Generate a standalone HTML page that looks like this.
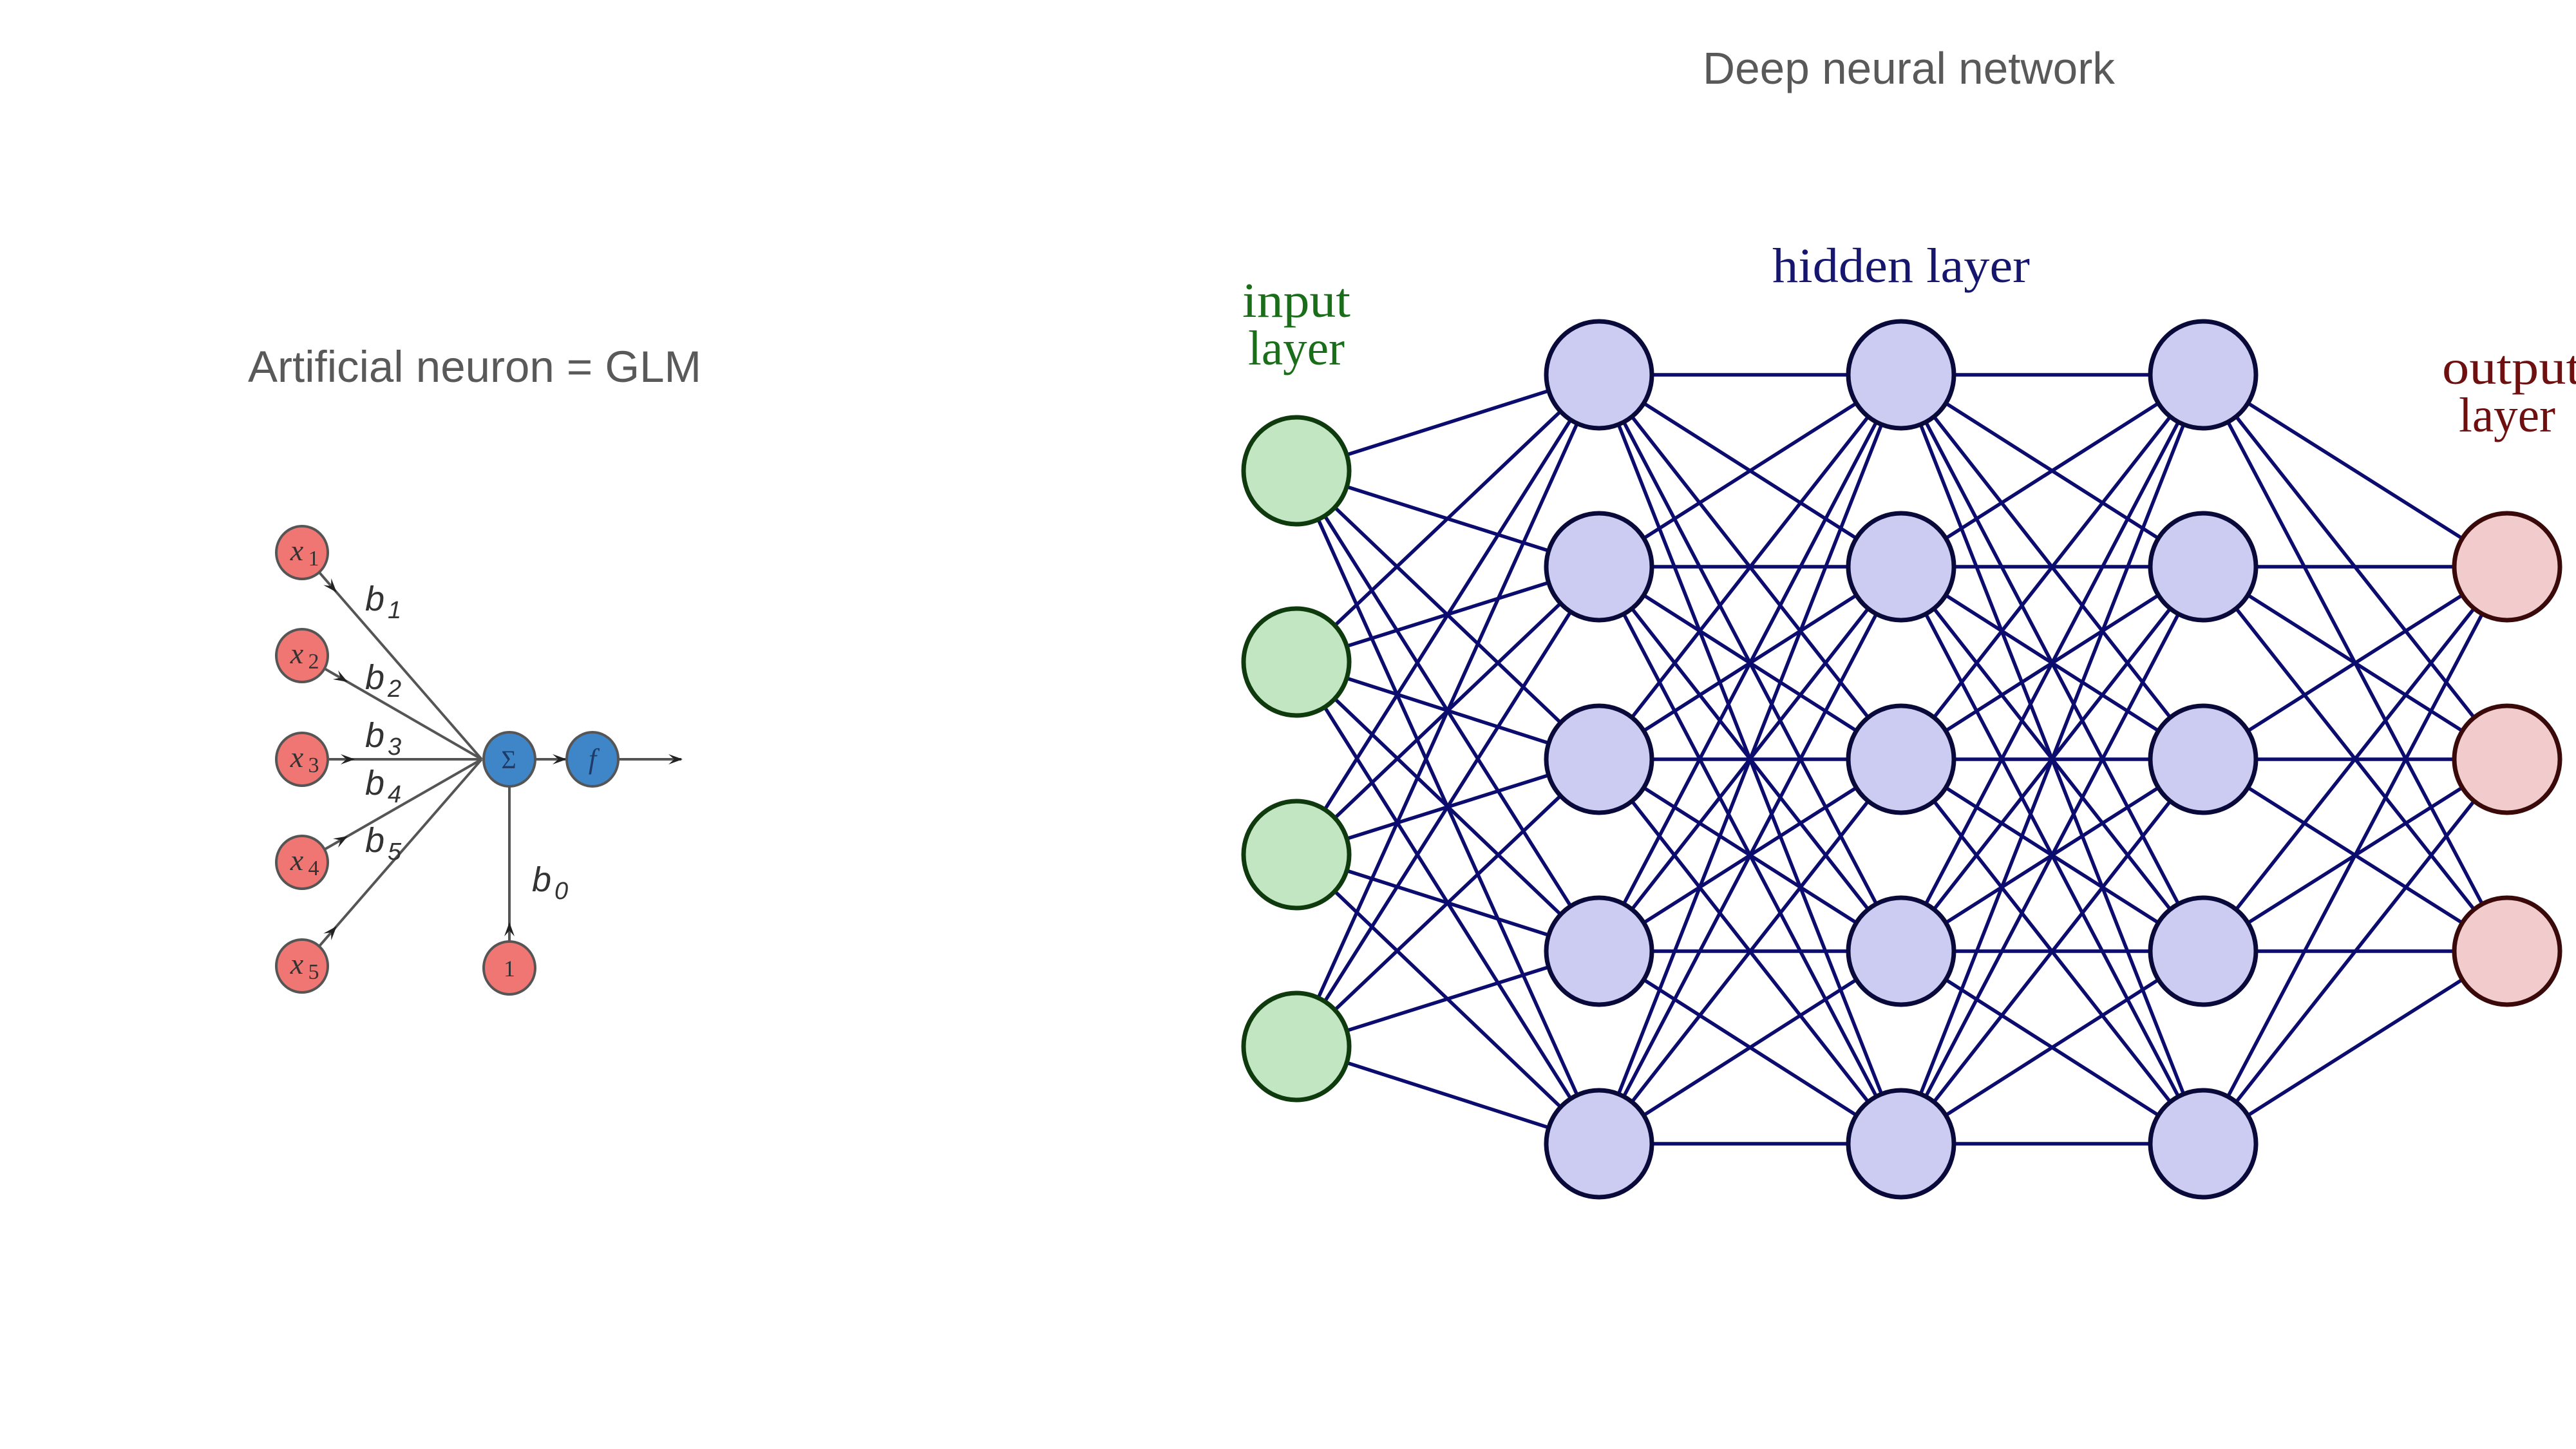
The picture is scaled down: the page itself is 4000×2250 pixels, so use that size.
<!DOCTYPE html>
<html><head><meta charset="utf-8"><style>
html,body{margin:0;padding:0;background:#fff;}
svg{display:block;}
</style></head><body>
<svg id="s" width="4000" height="2250" viewBox="0 0 4000 2250" xmlns="http://www.w3.org/2000/svg">
<rect width="4000" height="2250" fill="#fff"/>
<text x="2964" y="130" font-family="Liberation Sans, sans-serif" font-size="70" fill="#595959" text-anchor="middle" textLength="640" lengthAdjust="spacingAndGlyphs">Deep neural network</text>
<text x="737" y="593" font-family="Liberation Sans, sans-serif" font-size="69" fill="#595959" text-anchor="middle" textLength="704" lengthAdjust="spacingAndGlyphs">Artificial neuron = GLM</text>

<g id="left" stroke="#555" stroke-width="4" fill="none"></g>
<g id="net"></g>

<g font-family="Liberation Serif, serif" font-size="76" text-anchor="middle">
<text x="2013" y="492" fill="#1a6e1a" textLength="168" lengthAdjust="spacingAndGlyphs">input</text>
<text x="2013" y="566" fill="#1a6e1a" textLength="150" lengthAdjust="spacingAndGlyphs">layer</text>
<text x="2952" y="438" fill="#16166e" textLength="400" lengthAdjust="spacingAndGlyphs">hidden layer</text>
<text x="3900" y="596" fill="#6e1010" textLength="216" lengthAdjust="spacingAndGlyphs">output</text>
<text x="3893" y="670" fill="#6e1010" textLength="150" lengthAdjust="spacingAndGlyphs">layer</text>
</g>
</svg>
<script>
const NS="http://www.w3.org/2000/svg";
function el(t,a,p){const e=document.createElementNS(NS,t);for(const k in a)e.setAttribute(k,a[k]);(p||document.getElementById('s')).appendChild(e);return e;}
const net=document.getElementById('net');
const IX=2013, IY=[731,1028,1327,1625];
const HX=[2483,2952,3421], HY=[582,880,1179,1477,1776];
const OX=3893, OY=[880,1179,1477];
const lg=el('g',{stroke:'#0c0c6e','stroke-width':5.5},net);
function L(x1,y1,x2,y2){el('line',{x1,y1,x2,y2},lg);}
IY.forEach(a=>HY.forEach(b=>L(IX,a,HX[0],b)));
for(let k=0;k<2;k++)HY.forEach(a=>HY.forEach(b=>L(HX[k],a,HX[k+1],b)));
HY.forEach(a=>OY.forEach(b=>L(HX[2],a,OX,b)));
const ng=el('g',{'stroke-width':7},net);
IY.forEach(y=>el('ellipse',{cx:IX,cy:y,rx:82,ry:83,fill:'#c2e6c2',stroke:'#0e3a0e'},ng));
HX.forEach(x=>HY.forEach(y=>el('ellipse',{cx:x,cy:y,rx:82,ry:83,fill:'#ccccf2',stroke:'#0a0a3a'},ng)));
OY.forEach(y=>el('ellipse',{cx:OX,cy:y,rx:82,ry:83,fill:'#f2cccc',stroke:'#3a0a0a'},ng));
const left=document.getElementById('left');
const XS=[858,1018,1179,1339,1500], x0=469, cx=748, cy=1179;
function arrowHead(x,y,ang,g){const s=22,w=8;const c=Math.cos(ang),sn=Math.sin(ang);
 el('polygon',{points:`${x},${y} ${x-s*c+w*sn},${y-s*sn-w*c} ${x-s*c*0.6},${y-s*sn*0.6} ${x-s*c-w*sn},${y-s*sn+w*c}`,fill:'#222',stroke:'none'},g);}
XS.forEach(y=>{const ang=Math.atan2(cy-y,cx-x0);const sx=x0+42*Math.cos(ang),sy=y+42*Math.sin(ang);
 el('line',{x1:sx,y1:sy,x2:cx,y2:cy},left);
 arrowHead(sx+40*Math.cos(ang),sy+40*Math.sin(ang),ang,left);});
el('line',{x1:831,y1:1179,x2:880,y2:1179},left);arrowHead(880,1179,0,left);
el('line',{x1:961,y1:1179,x2:1058,y2:1179},left);arrowHead(1060,1179,0,left);
el('line',{x1:791,y1:1221,x2:791,y2:1461},left);arrowHead(791,1432,-Math.PI/2,left);
const ng2=el('g',{'stroke-width':4,stroke:'#555'});
XS.forEach(y=>el('ellipse',{cx:x0,cy:y,rx:40,ry:41,fill:'#ef7672'},ng2));
el('ellipse',{cx:791,cy:1503,rx:40,ry:41,fill:'#ef7672'},ng2);
el('ellipse',{cx:791,cy:1179,rx:40,ry:42,fill:'#3f86c8'},ng2);
el('ellipse',{cx:920,cy:1179,rx:40,ry:42,fill:'#3f86c8'},ng2);
const tg=el('g',{'font-family':'Liberation Serif, serif',fill:'#333'});
XS.forEach((y,i)=>{const t=el('text',{x:x0-8,y:y+12,'font-size':46,'font-style':'italic','text-anchor':'middle'},tg);t.textContent='x';
 const s=el('text',{x:x0+18,y:y+20,'font-size':34,'text-anchor':'middle'},tg);s.textContent=String(i+1);});
let t=el('text',{x:791,y:1516,'font-size':36,'text-anchor':'middle'},tg);t.textContent='1';
t=el('text',{x:790,y:1193,'font-size':40,'text-anchor':'middle',fill:'#1e3a66'},tg);t.textContent='Σ';
t=el('text',{x:920,y:1193,'font-size':44,'font-style':'italic','text-anchor':'middle',fill:'#1e3a66'},tg);t.textContent='f';
const bg=el('g',{'font-family':'Liberation Sans, sans-serif',fill:'#333','font-style':'italic'});
[[567,948,'1'],[567,1070,'2'],[567,1160,'3'],[567,1234,'4'],[567,1323,'5'],[826,1384,'0']].forEach(([x,y,n])=>{
 let a=el('text',{x,y,'font-size':54},bg);a.textContent='b';
 a=el('text',{x:x+35,y:y+12,'font-size':38},bg);a.textContent=n;});
</script>
</body></html>
